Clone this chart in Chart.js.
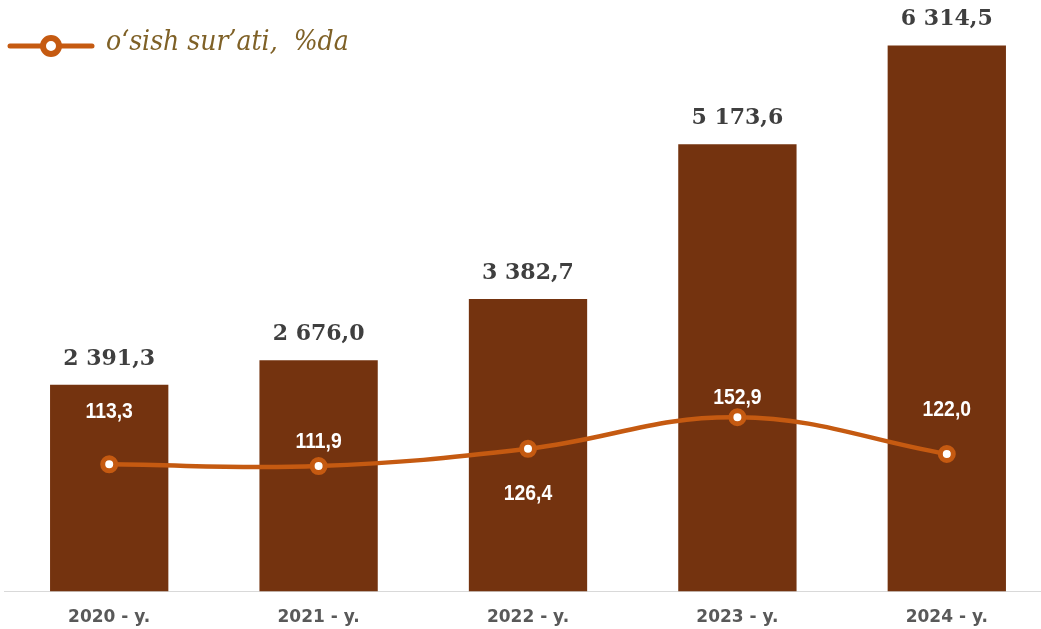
<!DOCTYPE html>
<html>
<head>
<meta charset="utf-8">
<script src="https://cdn.jsdelivr.net/npm/chart.js@4.4.1/dist/chart.umd.min.js"></script>
<style>
  html, body { margin: 0; padding: 0; background: #ffffff; overflow: hidden; }
  #wrap { position: relative; width: 1041px; height: 629px; overflow: hidden; }
  canvas { position: absolute; left: -7px; top: 0; }
</style>
</head>
<body>
<div id="wrap"><canvas id="c" width="1070" height="629"></canvas></div>
<script>
const categories = ["2020 - y.", "2021 - y.", "2022 - y.", "2023 - y.", "2024 - y."];
const volumeValues = [2391.3, 2676.0, 3382.7, 5173.6, 6314.5];
const growthValues = [113.3, 111.9, 126.4, 152.9, 122.0];
const growthLabel = "o\u2018sish sur\u2019ati,  %da";
// label placement for the growth series: negative = above point, positive = below
const growthLabelOffsets = [-52, -24, 45, -19, -44];

function fmt(v) {
  const s = v.toFixed(1).split('.');
  const intPart = s[0].replace(/\B(?=(\d{3})+(?!\d))/g, ' ');
  return intPart + ',' + s[1];
}

const CANVAS_SHIFT = 7;

const labelPlugin = {
  id: 'labels',
  afterDatasetsDraw(chart) {
    const ctx = chart.ctx;
    ctx.save();
    const barMeta = chart.getDatasetMeta(1);
    ctx.fillStyle = '#3F3F3F';
    ctx.font = 'bold 22px "DejaVu Serif"';
    ctx.textAlign = 'center';
    ctx.textBaseline = 'middle';
    barMeta.data.forEach((el, i) => {
      ctx.fillText(fmt(volumeValues[i]), el.x, el.y - 26);
    });
    const lineMeta = chart.getDatasetMeta(0);
    ctx.fillStyle = '#ffffff';
    ctx.font = 'bold 22px "Liberation Sans"';
    const sx = 0.88;
    lineMeta.data.forEach((el, i) => {
      ctx.save();
      ctx.translate(el.x, el.y + growthLabelOffsets[i]);
      ctx.scale(sx, 1);
      ctx.fillText(fmt(growthValues[i]), 0, 0);
      ctx.restore();
    });
    // legend
    const lx1 = 10 + CANVAS_SHIFT, lx2 = 92 + CANVAS_SHIFT, ly = 46;
    ctx.strokeStyle = '#C55A11';
    ctx.lineWidth = 5;
    ctx.lineCap = 'round';
    ctx.beginPath(); ctx.moveTo(lx1, ly); ctx.lineTo(lx2, ly); ctx.stroke();
    ctx.beginPath(); ctx.arc((lx1 + lx2) / 2, ly, 8, 0, Math.PI * 2);
    ctx.fillStyle = '#ffffff'; ctx.fill();
    ctx.lineWidth = 6; ctx.stroke();
    ctx.fillStyle = '#7F6127';
    ctx.font = 'italic 28px "DejaVu Serif Condensed", "DejaVu Serif"';
    ctx.textAlign = 'left';
    ctx.fillText(growthLabel, 106 + CANVAS_SHIFT, 43);
    ctx.restore();
  }
};

function draw() {
  new Chart(document.getElementById('c'), {
    data: {
      labels: categories,
      datasets: [
        {
          type: 'line',
          label: growthLabel,
          data: growthValues,
          yAxisID: 'y2',
          borderColor: '#C55A11',
          borderWidth: 4.5,
          tension: 0.4,
          pointRadius: 6.5,
          pointBorderWidth: 5,
          pointBackgroundColor: '#ffffff',
          pointBorderColor: '#C55A11',
          order: 0
        },
        {
          type: 'bar',
          label: 'volume',
          data: volumeValues,
          yAxisID: 'y',
          backgroundColor: '#74330F',
          borderWidth: 0,
          barPercentage: 0.565,
          categoryPercentage: 1.0,
          order: 1
        }
      ]
    },
    options: {
      responsive: false,
      animation: false,
      layout: { padding: { top: -5, left: 4, right: 0, bottom: -7 } },
      plugins: { legend: { display: false }, tooltip: { enabled: false } },
      scales: {
        x: {
          grid: { display: false },
          border: { display: true, color: '#D9D9D9', width: 1 },
          ticks: { color: '#595959', font: { family: '"DejaVu Sans"', size: 17, weight: 'bold' }, padding: 8 }
        },
        y: { display: false, min: 0, max: 6709 },
        y2: { display: false, min: 6.3, max: 494.1 }
      }
    },
    plugins: [labelPlugin]
  });
}

const fontLoads = [
  'bold 17px "DejaVu Sans"',
  'bold 22px "DejaVu Serif"',
  'italic 28px "DejaVu Serif Condensed"',
  'bold 22px "Liberation Sans"'
].map(f => document.fonts.load(f).catch(() => null));
Promise.all(fontLoads).then(draw, draw);
</script>
</body>
</html>
